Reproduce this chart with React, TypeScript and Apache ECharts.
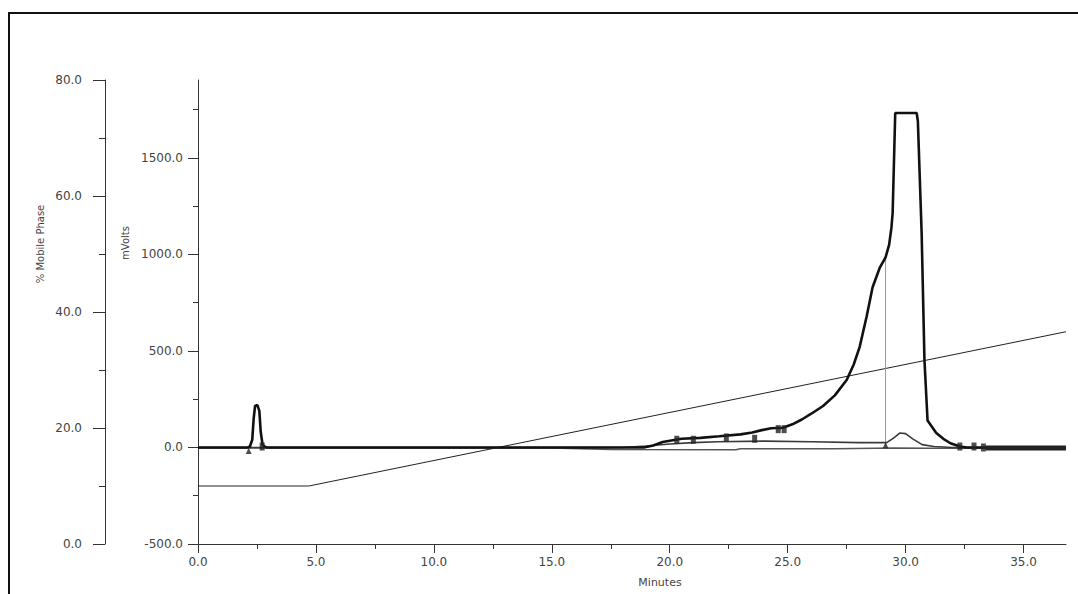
import React, { useEffect, useRef } from "react";
import * as echarts from "echarts";

// Axis ticks
const xMajorTicks = [0, 5, 10, 15, 20, 25, 30, 35];
const xMinorTicks = [2.5, 7.5, 12.5, 17.5, 22.5, 27.5, 32.5];
const mvMajorTicks = [-500, 0, 500, 1000, 1500];
const mvMinorTicks = [-250, 250, 750, 1250, 1750];

// % Mobile phase gradient
const gradientTime = [0, 4.7, 36.8];
const gradientPct = [10, 10, 36.6];

// Main chromatogram (mVolts)
const traceATime = [0, 2.1, 2.2, 2.3, 2.36, 2.42, 2.52, 2.6, 2.66, 2.74, 2.9, 18.9, 19.3, 19.7, 20.5, 21.3, 22.1, 23.0, 23.5, 23.9, 24.3, 24.8, 25.2, 25.6, 26.0, 26.5, 27.0, 27.5, 27.8, 28.05, 28.35, 28.6, 28.9, 29.15, 29.3, 29.4, 29.45, 29.56, 30.47, 30.52, 30.68, 30.8, 30.93, 31.3, 31.6, 31.9, 32.3, 32.6, 36.8];
const traceAmV = [0, 0, 5, 40, 150, 215, 220, 190, 80, 12, 0, 0, 10, 28, 45, 50, 58, 68, 78, 90, 100, 102, 120, 145, 175, 215, 270, 350, 430, 520, 680, 830, 930, 985, 1050, 1140, 1215, 1733, 1733, 1690, 1110, 450, 140, 75, 45, 22, 5, 0, 0];

// Second trace
const traceBTime = [0, 18, 19, 20, 21, 22, 24, 26, 28, 29.2, 29.5, 29.75, 30.0, 30.3, 30.7, 31.2, 32, 36.8];
const traceBmV = [0, 0, 8, 18, 25, 30, 33, 30, 25, 25, 50, 75, 72, 45, 15, 5, 0, 0];

// Third trace
const traceCTime = [0, 15, 17.5, 22.8, 23, 27, 29.5, 31, 36.8];
const traceCmV = [-2, -3, -10, -12, -6, -6, -2, -4, -4];

// Integration markers
const markTime = [2.72, 20.3, 21.0, 22.4, 23.6, 24.6, 24.85, 32.3, 32.9, 33.3];
const markmV = [5, 40, 40, 52, 45, 95, 95, 5, 5, 0];
const triTime = [2.15, 29.15];
const trimV = [-18, 12];

// Peak split line and end band
const dropTime = [29.15, 29.15];
const dropmV = [10, 985];
const bandTime = [33.4, 36.8];
const bandmV = [-3, -3];

const zip = (a: number[], b: number[]) => a.map((v, i) => [v, b[i]]);

const FONT = '"DejaVu Sans", Verdana, sans-serif';
const AX = "#333";
const TXT = "#444";

export default function App() {
  const ref = useRef<HTMLDivElement>(null);
  useEffect(() => {
    if (!ref.current) return;
    const chart = echarts.init(ref.current, undefined, { renderer: "svg" });
    chart.setOption({
      animation: false,
      backgroundColor: "#fff",
      grid: { left: 198, right: 12, top: 80, bottom: 50, containLabel: false },
      xAxis: [
        {
          type: "value",
          min: 0,
          max: 36.8,
          position: "bottom",
          axisLine: { show: true, onZero: false, lineStyle: { color: AX, width: 1 } },
          axisTick: { show: true, length: 9, customValues: xMajorTicks, lineStyle: { color: AX } },
          axisLabel: {
            customValues: xMajorTicks,
            formatter: (v: number) => v.toFixed(1),
            margin: 12,
            color: TXT,
            fontSize: 12,
            fontFamily: FONT,
          },
          splitLine: { show: false },
        },
        {
          type: "value",
          min: 0,
          max: 36.8,
          position: "bottom",
          axisLine: { show: false, onZero: false },
          axisTick: { show: true, length: 5, customValues: xMinorTicks, lineStyle: { color: AX } },
          axisLabel: { show: false },
          splitLine: { show: false },
        },
      ],
      yAxis: [
        {
          type: "value",
          min: 0,
          max: 80,
          interval: 20,
          position: "left",
          offset: 93,
          axisLine: { show: true, onZero: false, lineStyle: { color: AX, width: 1 } },
          axisTick: { show: true, length: 12, lineStyle: { color: AX } },
          minorTick: { show: true, splitNumber: 2, length: 6, lineStyle: { color: AX } },
          axisLabel: {
            formatter: (v: number) => v.toFixed(1),
            margin: 23,
            color: TXT,
            fontSize: 12,
            fontFamily: FONT,
          },
          splitLine: { show: false },
          minorSplitLine: { show: false },
        },
        {
          type: "value",
          min: -500,
          max: 1904,
          position: "left",
          offset: 0,
          axisLine: { show: true, onZero: false, lineStyle: { color: AX, width: 1 } },
          axisTick: { show: true, length: 10, customValues: mvMajorTicks, lineStyle: { color: AX } },
          axisLabel: {
            customValues: mvMajorTicks,
            formatter: (v: number) => v.toFixed(1),
            margin: 15,
            color: TXT,
            fontSize: 12,
            fontFamily: FONT,
          },
          splitLine: { show: false },
        },
        {
          type: "value",
          min: -500,
          max: 1904,
          position: "left",
          offset: 0,
          axisLine: { show: false, onZero: false },
          axisTick: { show: true, length: 5, customValues: mvMinorTicks, lineStyle: { color: AX } },
          axisLabel: { show: false },
          splitLine: { show: false },
        },
      ],
      graphic: [
        { type: "line", shape: { x1: 9, y1: 13, x2: 1078, y2: 13 }, style: { stroke: "#111", lineWidth: 2 } },
        { type: "line", shape: { x1: 9, y1: 12, x2: 9, y2: 594 }, style: { stroke: "#111", lineWidth: 2 } },
        {
          type: "text",
          x: 40,
          y: 244,
          rotation: Math.PI / 2,
          style: { text: "% Mobile Phase", font: `10px ${FONT}`, fill: TXT, align: "center", verticalAlign: "middle" },
        },
        {
          type: "text",
          x: 125,
          y: 243,
          rotation: Math.PI / 2,
          style: { text: "mVolts", font: `10px ${FONT}`, fill: TXT, align: "center", verticalAlign: "middle" },
        },
        {
          type: "text",
          x: 660,
          y: 582,
          style: { text: "Minutes", font: `11px ${FONT}`, fill: TXT, align: "center", verticalAlign: "middle" },
        },
      ],
      series: [
        {
          name: "% Mobile Phase",
          type: "line",
          xAxisIndex: 0,
          yAxisIndex: 0,
          data: zip(gradientTime, gradientPct),
          showSymbol: false,
          lineStyle: { color: "#222", width: 1 },
          z: 2,
        },
        {
          name: "Trace C",
          type: "line",
          xAxisIndex: 0,
          yAxisIndex: 1,
          data: zip(traceCTime, traceCmV),
          showSymbol: false,
          lineStyle: { color: "#555", width: 1.5 },
          z: 3,
        },
        {
          name: "Trace B",
          type: "line",
          xAxisIndex: 0,
          yAxisIndex: 1,
          data: zip(traceBTime, traceBmV),
          showSymbol: false,
          lineStyle: { color: "#3a3a3a", width: 1.6 },
          z: 4,
        },
        {
          name: "Drop line",
          type: "line",
          xAxisIndex: 0,
          yAxisIndex: 1,
          data: zip(dropTime, dropmV),
          showSymbol: false,
          lineStyle: { color: "#999", width: 1 },
          z: 3,
        },
        {
          name: "Trace A",
          type: "line",
          xAxisIndex: 0,
          yAxisIndex: 1,
          data: zip(traceATime, traceAmV),
          showSymbol: false,
          lineStyle: { color: "#111", width: 2.6 },
          z: 5,
        },
        {
          name: "Band",
          type: "line",
          xAxisIndex: 0,
          yAxisIndex: 1,
          data: zip(bandTime, bandmV),
          showSymbol: false,
          lineStyle: { color: "#222", width: 5 },
          z: 6,
        },
        {
          name: "Marks",
          type: "scatter",
          xAxisIndex: 0,
          yAxisIndex: 1,
          data: zip(markTime, markmV),
          symbol: "rect",
          symbolSize: [5, 8],
          itemStyle: { color: "#222" },
          z: 7,
        },
        {
          name: "Triangles",
          type: "scatter",
          xAxisIndex: 0,
          yAxisIndex: 1,
          data: zip(triTime, trimV),
          symbol: "triangle",
          symbolSize: [6, 6],
          itemStyle: { color: "#222" },
          z: 7,
        },
      ],
    });
    return () => chart.dispose();
  }, []);
  return (
    <div
      ref={ref}
      style={{ position: "absolute", left: 0, top: 0, width: 1078, height: 594, background: "#fff" }}
    />
  );
}
